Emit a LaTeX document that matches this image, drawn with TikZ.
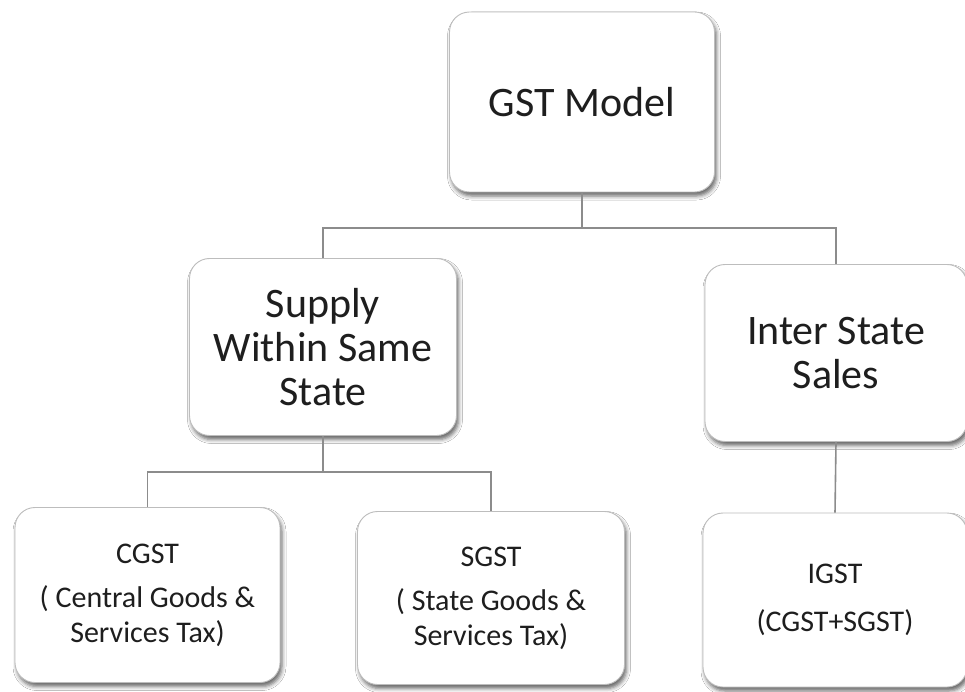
\documentclass[tikz,border=0pt]{standalone}
\usepackage{fontspec}
\setmainfont{Carlito}
\usetikzlibrary{shadows.blur}
\definecolor{txt}{HTML}{1E1E1E}
\definecolor{edge}{HTML}{BDBDBD}
\definecolor{link}{HTML}{8C8C8C}
\begin{document}
\begin{tikzpicture}[x=1pt,y=-1pt,
  box/.style={draw=edge, line width=0.9pt, fill=white, rounded corners=20pt,
    inner sep=0pt, align=center, text=txt,
    blur shadow={shadow xshift=2pt, shadow yshift=-4pt, shadow blur radius=4pt, shadow opacity=60}},
  bigbox/.style={box, font=\fontsize{42}{44}\selectfont},
  smallbox/.style={box, font=\fontsize{30}{35}\selectfont},
  link/.style={draw=link, line width=1.6pt}]
\useasboundingbox (0,0) rectangle (965,692);
\fill[white] (0,0) rectangle (965,692);

% top level
\node[bigbox, minimum width=265pt, minimum height=180pt] (gst) at (582,102) {GST Model};

% second level
\node[bigbox, minimum width=267pt, minimum height=177pt] (intra) at (323,347)
  {Supply\\Within Same\\State};
\node[bigbox, minimum width=262pt, minimum height=177pt] (inter) at (836,353)
  {Inter State\\Sales};

% third level
\node[smallbox, minimum width=265pt, minimum height=175pt] (cgst) at (147.5,595)
  {CGST\\[9pt]( Central Goods \&\\Services Tax)};
\node[smallbox, minimum width=267pt, minimum height=173pt] (sgst) at (491,598)
  {SGST\\[9pt]( State Goods \&\\Services Tax)};
\node[smallbox, minimum width=264pt, minimum height=174pt] (igst) at (835,600)
  {IGST\\[13pt](CGST+SGST)};

% junction rails
\coordinate (rail1) at (0,228);
\coordinate (rail2) at (0,472);

% connectors
\draw[link] (gst.south) -- (gst.south |- rail1) -| (intra.north);
\draw[link] (gst.south |- rail1) -| (inter.north);
\draw[link] (intra.south) -- (intra.south |- rail2) -| (cgst.north);
\draw[link] (intra.south |- rail2) -| (sgst.north);
\draw[link] (inter.south) -- (igst.north);
\end{tikzpicture}
\end{document}
